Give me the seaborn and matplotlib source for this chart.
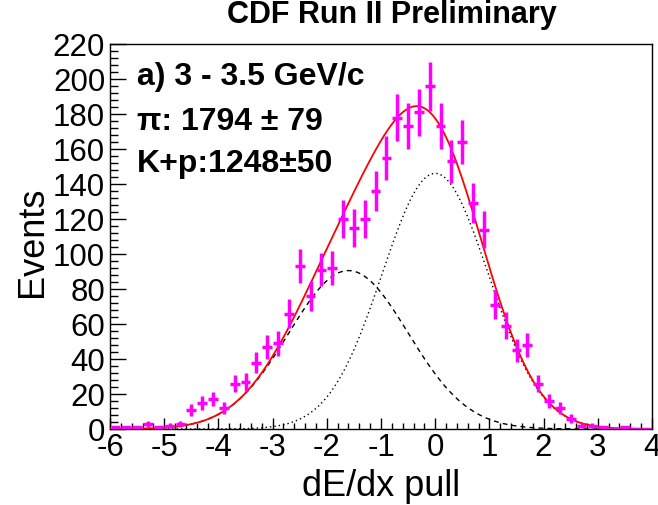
import numpy as np
import pandas as pd
import matplotlib
matplotlib.use("Agg")
import matplotlib.pyplot as plt
from matplotlib.ticker import MultipleLocator
import seaborn as sns

# dE/dx pull histogram: bin centres (width 0.2) and event counts
pull_centers = [-5.9, -5.7, -5.5, -5.3, -5.1, -4.9, -4.7, -4.5, -4.3, -4.1,
                -3.9, -3.7, -3.5, -3.3, -3.1, -2.9, -2.7, -2.5, -2.3, -2.1,
                -1.9, -1.7, -1.5, -1.3, -1.1, -0.9, -0.7, -0.5, -0.3, -0.1,
                0.1, 0.3, 0.5, 0.7, 0.9, 1.1, 1.3, 1.5, 1.7, 1.9,
                2.1, 2.3, 2.5, 2.7, 2.9, 3.1, 3.3, 3.5, 3.7, 3.9]
events = [1, 1, 1, 3, 1, 2, 3, 11, 15, 17,
          12, 26, 27, 38, 47, 49, 66, 93, 76, 91,
          92, 120, 115, 120, 136, 155, 178, 173, 181, 196,
          173, 153, 164, 129, 114, 71, 59, 45, 48, 26,
          16, 12, 6, 2, 2, 1, 0, 1, 0, 0]
bin_width = 0.2

# Fit result: two Gaussian components
n_pion, n_pion_err = 1794, 79
n_kp, n_kp_err = 1248, 50
pion_mean, pion_sigma = 0.0, 0.98
kp_mean, kp_sigma = -1.6, 1.1

sns.set_theme(style="white")
plt.rcParams["font.family"] = ["Liberation Sans", "DejaVu Sans"]
plt.rcParams["text.color"] = "black"
plt.rcParams["axes.labelcolor"] = "black"
plt.rcParams["xtick.color"] = "black"
plt.rcParams["ytick.color"] = "black"
plt.rcParams["axes.unicode_minus"] = False


def gauss(x, n, mu, sigma):
    return n * bin_width / (np.sqrt(2 * np.pi) * sigma) * np.exp(-0.5 * ((x - mu) / sigma) ** 2)


xs = np.linspace(-6, 4, 800)
fit = pd.DataFrame({
    "pull": xs,
    "pion": gauss(xs, n_pion, pion_mean, pion_sigma),
    "kp": gauss(xs, n_kp, kp_mean, kp_sigma),
})
fit["total"] = fit["pion"] + fit["kp"]

fig = plt.figure(figsize=(6.58, 5.06), dpi=100)
ax = fig.add_axes([110 / 658, 76 / 506, 542 / 658, 385 / 506])

sns.lineplot(data=fit, x="pull", y="pion", ax=ax, color="black", lw=1.0,
             linestyle=(0, (1, 2.2)), zorder=2)
sns.lineplot(data=fit, x="pull", y="kp", ax=ax, color="black", lw=1.0,
             linestyle=(0, (3.5, 3)), zorder=2)
sns.lineplot(data=fit, x="pull", y="total", ax=ax, color="#ff0000", lw=1.3, zorder=3)

counts = np.array(events, dtype=float)
ax.errorbar(pull_centers, counts, yerr=np.sqrt(counts), xerr=0.09, fmt="none",
            ecolor="#ff00ff", elinewidth=2.5, capsize=0, zorder=4)

ax.set_xlim(-6, 4)
ax.set_ylim(0, 220)
ax.xaxis.set_major_locator(MultipleLocator(1))
ax.xaxis.set_minor_locator(MultipleLocator(0.2))
ax.yaxis.set_major_locator(MultipleLocator(20))
ax.yaxis.set_minor_locator(MultipleLocator(4))

ax.tick_params(axis="both", which="both", direction="in", left=True, bottom=True,
               top=False, right=False, width=1, color="black")
ax.tick_params(axis="y", which="major", length=11.5, pad=3.5, labelsize=22.5)
ax.tick_params(axis="y", which="minor", length=5.8)
ax.tick_params(axis="x", which="major", length=8, pad=2.5, labelsize=22.5)
ax.tick_params(axis="x", which="minor", length=4.3)

for side in ["left", "right", "top", "bottom"]:
    ax.spines[side].set_visible(True)
    ax.spines[side].set_color("black")
    ax.spines[side].set_linewidth(1.0)

ax.set_xlabel("dE/dx pull", fontsize=26, va="baseline")
ax.xaxis.set_label_coords(0.5, (430 - 496) / 385)
ax.set_ylabel("Events", fontsize=26, va="baseline")
ax.yaxis.set_label_coords((41.7 - 110) / 542, 0.49)

ax.text(0.05, 0.896, "a) 3 - 3.5 GeV/c", transform=ax.transAxes,
        fontsize=23, fontweight="bold", va="baseline")
ax.text(0.05, 0.779, f"\u03c0: {n_pion} \u00b1 {n_pion_err}", transform=ax.transAxes,
        fontsize=23, fontweight="bold", va="baseline")
ax.text(0.05, 0.670, f"K+p:{n_kp}\u00b1{n_kp_err}", transform=ax.transAxes,
        fontsize=23, fontweight="bold", va="baseline")

fig.text(392 / 658, (506 - 22.7) / 506, "CDF Run II Preliminary", ha="center",
         va="baseline", fontsize=22, fontweight="bold")

fig.savefig("out.png", dpi=100)
